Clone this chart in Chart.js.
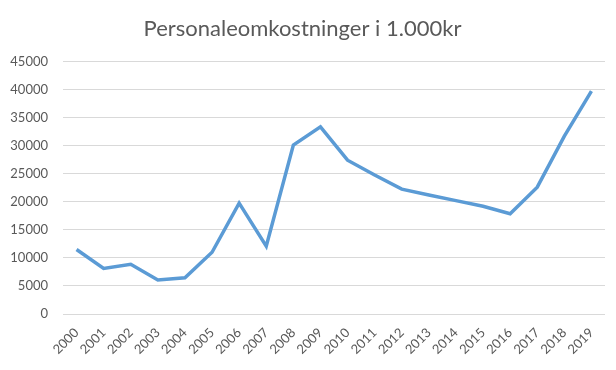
<!DOCTYPE html>
<html>
<head>
<meta charset="utf-8">
<script src="https://cdn.jsdelivr.net/npm/chart.js@4/dist/chart.umd.min.js"></script>
<style>
html,body{margin:0;padding:0;background:#fff;}
#wrap{width:616px;height:370px;}
</style>
</head>
<body>
<div id="wrap"><canvas id="c" width="616" height="370"></canvas></div>
<script>
const categories = ["2000","2001","2002","2003","2004","2005","2006","2007","2008","2009","2010","2011","2012","2013","2014","2015","2016","2017","2018","2019"];
const values = [11500, 8100, 8850, 6050, 6450, 11000, 19750, 12100, 30100, 33350, 27400, 24750, 22250, 21200, 20200, 19200, 17850, 22600, 31700, 39700];
const yTicks = [0, 5000, 10000, 15000, 20000, 25000, 30000, 35000, 40000, 45000];
const titleText = "Personaleomkostninger i 1.000kr";

const FONT = "Lato, 'Open Sans', 'Liberation Sans', sans-serif";
new Chart(document.getElementById('c'), {
  type: 'line',
  data: {
    labels: categories,
    datasets: [{
      data: values,
      borderColor: '#5B9BD5',
      backgroundColor: '#5B9BD5',
      borderWidth: 3.5,
      pointRadius: 0,
      tension: 0,
      fill: false
    }]
  },
  options: {
    responsive: false,
    animation: false,
    layout: { padding: { left: 0, right: 11, top: 0, bottom: 0 } },
    plugins: {
      legend: { display: false },
      tooltip: { enabled: false },
      title: {
        display: true,
        text: titleText,
        color: '#595959',
        font: { family: FONT, size: 22, weight: 'normal' },
        padding: { top: 16, bottom: 19 }
      }
    },
    scales: {
      x: {
        offset: true,
        grid: { display: false, drawTicks: false },
        border: { display: false },
        ticks: {
          color: '#595959',
          font: { family: FONT, size: 13 },
          maxRotation: 45,
          minRotation: 45,
          autoSkip: false,
          padding: 11
        },
        afterFit: function(s) { s.height = 56; }
      },
      y: {
        min: 0,
        max: 45000,
        afterBuildTicks: function(s) { s.ticks = yTicks.map(v => ({ value: v })); },
        grid: { color: '#D9D9D9', lineWidth: 1, drawTicks: false },
        border: { display: false },
        ticks: {
          color: '#595959',
          font: { family: FONT, size: 13 },
          padding: 15,
          callback: function(v) { return String(v); }
        },
        afterFit: function(s) { s.width = 63; }
      }
    }
  }
});
</script>
</body>
</html>
